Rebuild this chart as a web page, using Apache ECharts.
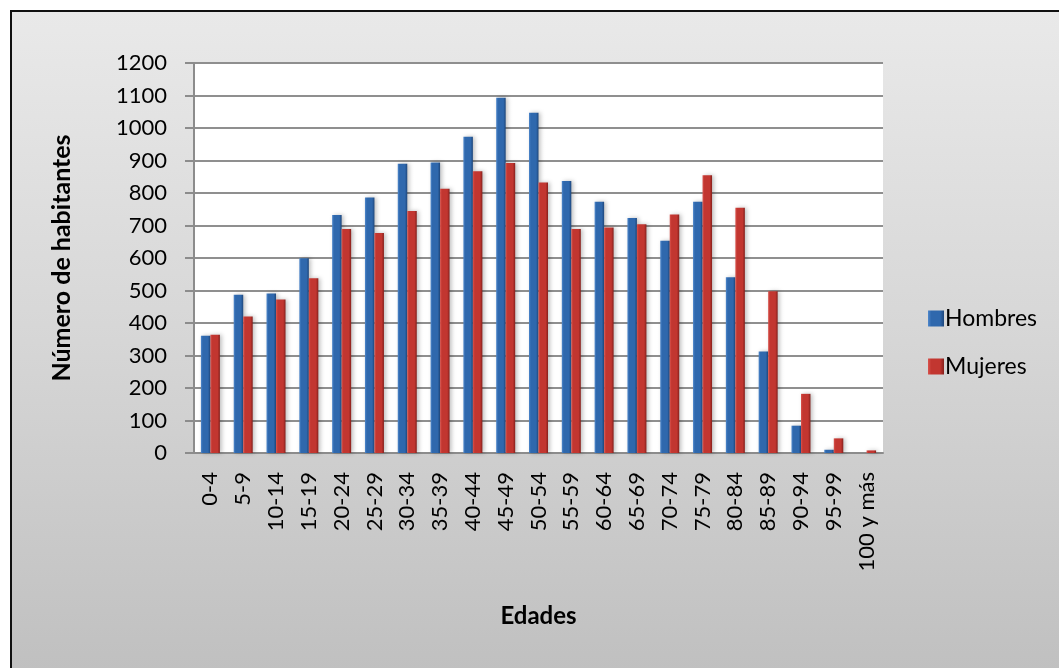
<!DOCTYPE html>
<html>
<head>
<meta charset="utf-8">
<script src="https://cdn.jsdelivr.net/npm/echarts@6/dist/echarts.min.js"></script>
<style>
  html, body { margin: 0; padding: 0; background: #fff; overflow: hidden; }
  #frame {
    position: absolute; left: 10px; top: 10px; width: 1100px; height: 700px;
    border-left: 2px solid #111; border-top: 2px solid #111;
    background: linear-gradient(to bottom, #e9e9e9 0px, #d6d6d6 330px, #c0c0c0 658px);
  }
  #chart { position: absolute; left: 0; top: 0; width: 1059px; height: 668px; }
</style>
</head>
<body>
<div id="frame"></div>
<div id="chart"></div>
<script>
// Population by five-year age group, split by sex
const categories = ['0-4', '5-9', '10-14', '15-19', '20-24', '25-29', '30-34', '35-39', '40-44',
  '45-49', '50-54', '55-59', '60-64', '65-69', '70-74', '75-79', '80-84', '85-89', '90-94',
  '95-99', '100 y más'];
const hombres = [361, 487, 491, 599, 732, 786, 890, 894, 973, 1093, 1047, 837, 773, 723, 653,
  773, 541, 312, 84, 10, 0];
const mujeres = [364, 420, 472, 538, 689, 677, 745, 813, 867, 892, 832, 689, 694, 704, 734,
  855, 755, 498, 182, 45, 8];
const yTicks = { min: 0, max: 1200, interval: 100 };

const FONT = 'Lato';

function barGradient(light, mid, dark) {
  return new echarts.graphic.LinearGradient(0, 0, 1, 0, [
    { offset: 0, color: light },
    { offset: 0.2, color: mid },
    { offset: 0.75, color: mid },
    { offset: 1, color: dark }
  ]);
}

const chart = echarts.init(document.getElementById('chart'), null, { renderer: 'canvas' });
chart.setOption({
  backgroundColor: 'transparent',
  animation: false,
  textStyle: { fontFamily: FONT, color: '#000' },
  grid: {
    left: 194, right: 176, top: 63, bottom: 215,
    show: true, backgroundColor: '#ffffff', borderWidth: 0
  },
  legend: {
    orient: 'vertical',
    left: 923, top: 302,
    itemWidth: 16, itemHeight: 16, itemGap: 25,
    icon: 'rect',
    textStyle: { fontFamily: FONT, fontSize: 23, color: '#000', padding: [0, 0, 0, -4] },
    data: ['Hombres', 'Mujeres']
  },
  xAxis: {
    type: 'category',
    data: categories,
    name: 'Edades',
    nameLocation: 'middle',
    nameGap: 151,
    nameTextStyle: { fontFamily: FONT, fontSize: 24, fontWeight: 'bold', color: '#000' },
    axisLine: { show: true, lineStyle: { color: '#8c8c8c', width: 2 } },
    axisTick: { show: false },
    axisLabel: {
      rotate: 90, margin: 19, interval: 0,
      fontFamily: FONT, fontSize: 22, color: '#000'
    }
  },
  yAxis: {
    type: 'value',
    min: yTicks.min, max: yTicks.max, interval: yTicks.interval,
    name: 'Número de habitantes',
    nameLocation: 'middle',
    nameGap: 120,
    nameTextStyle: { fontFamily: FONT, fontSize: 25, fontWeight: 'bold', color: '#000' },
    axisLine: { show: true, lineStyle: { color: '#8c8c8c', width: 2 } },
    axisTick: { show: true, inside: false, length: 9, lineStyle: { color: '#8c8c8c', width: 2 } },
    axisLabel: {
      margin: 27, fontFamily: FONT, fontSize: 22, color: '#000',
      formatter: v => String(v)
    },
    splitLine: { show: true, lineStyle: { color: '#8f8f8f', width: 2 } }
  },
  series: [
    {
      name: 'Hombres',
      type: 'bar',
      data: hombres,
      barWidth: 9.5,
      barGap: '0%',
      itemStyle: {
        color: barGradient('#4f88cc', '#2f68ad', '#1e477c'),
        shadowColor: 'rgba(0,0,0,0.25)', shadowBlur: 4, shadowOffsetX: 2, shadowOffsetY: 0
      }
    },
    {
      name: 'Mujeres',
      type: 'bar',
      data: mujeres,
      barWidth: 9.5,
      barGap: '0%',
      itemStyle: {
        color: barGradient('#d9534d', '#c23630', '#85201c'),
        shadowColor: 'rgba(0,0,0,0.25)', shadowBlur: 4, shadowOffsetX: 2, shadowOffsetY: 0
      }
    }
  ]
});
</script>
</body>
</html>
